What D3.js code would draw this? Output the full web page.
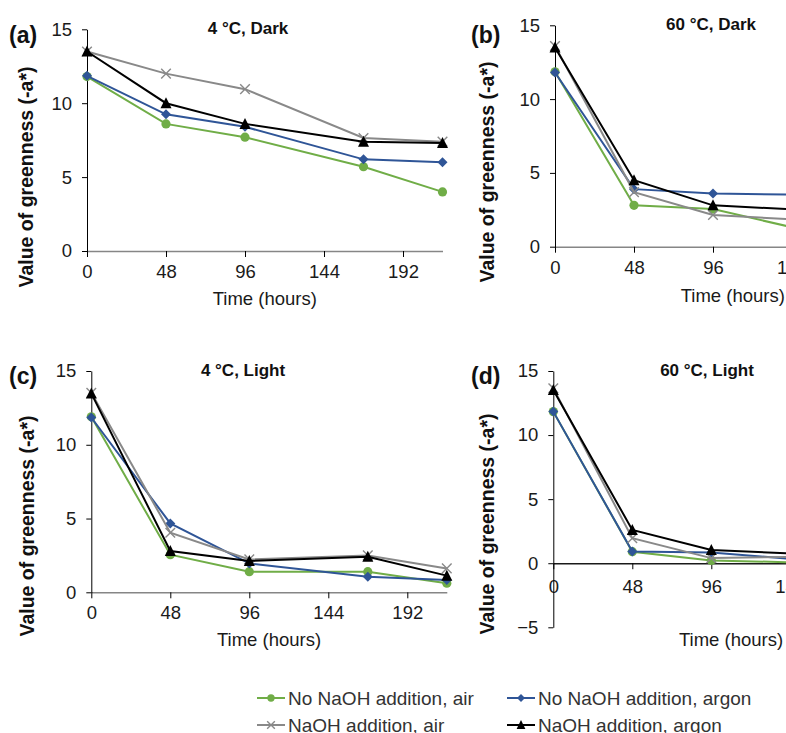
<!DOCTYPE html>
<html><head><meta charset="utf-8">
<script src="https://cdn.jsdelivr.net/npm/d3@7"></script>
<style>body{margin:0;background:#fff}svg{display:block;font-family:"Liberation Sans",Arial,sans-serif}</style>
</head><body>
<script>
// ---- data ----
const hours = [0, 48, 96, 168, 216];
const xTickValues = [0, 48, 96, 144, 192];
const yTicksStd = [0, 5, 10, 15];
const yTicksD = [-5, 0, 5, 10, 15];
const seriesNames = ["No NaOH addition, air", "No NaOH addition, argon", "NaOH addition, air", "NaOH addition, argon"];
const panelTitles = ["4 °C, Dark", "60 °C, Dark", "4 °C, Light", "60 °C, Light"];
const panelLetters = ["(a)", "(b)", "(c)", "(d)"];

// (a) 4 °C, Dark
const a_noNaOH_air   = [11.8, 8.6, 7.7, 5.7, 4.0];
const a_noNaOH_argon = [11.85, 9.25, 8.4, 6.2, 6.0];
const a_NaOH_air     = [13.5, 12.0, 10.95, 7.65, 7.4];
const a_NaOH_argon   = [13.5, 10.0, 8.6, 7.4, 7.3];
// (b) 60 °C, Dark
const b_noNaOH_air   = [11.85, 2.8, 2.55, 0.7, 0.5];
const b_noNaOH_argon = [11.8, 3.9, 3.6, 3.5, 3.4];
const b_NaOH_air     = [13.6, 3.7, 2.15, 1.7, 1.5];
const b_NaOH_argon   = [13.5, 4.5, 2.8, 2.4, 2.2];
// (c) 4 °C, Light
const c_noNaOH_air   = [11.9, 2.55, 1.4, 1.4, 0.62];
const c_noNaOH_argon = [11.85, 4.67, 1.96, 1.06, 0.83];
const c_NaOH_air     = [13.52, 4.04, 2.23, 2.5, 1.62];
const c_NaOH_argon   = [13.48, 2.8, 2.12, 2.41, 1.13];
// (d) 60 °C, Light
const d_noNaOH_air   = [11.83, 0.9, 0.22, 0.0, -0.1];
const d_noNaOH_argon = [11.83, 0.92, 0.83, 0.1, 0.0];
const d_NaOH_air     = [13.65, 1.95, 0.4, 0.55, 0.5];
const d_NaOH_argon   = [13.52, 2.6, 1.04, 0.63, 0.6];

const panelData = [
  [a_noNaOH_air, a_noNaOH_argon, a_NaOH_air, a_NaOH_argon],
  [b_noNaOH_air, b_noNaOH_argon, b_NaOH_air, b_NaOH_argon],
  [c_noNaOH_air, c_noNaOH_argon, c_NaOH_air, c_NaOH_argon],
  [d_noNaOH_air, d_noNaOH_argon, d_NaOH_air, d_NaOH_argon]
];

// ---- layout / style ----
const colors = ["#70AD47", "#2F5597", "#898989", "#000000"];
const shapes = ["circle", "diamond", "cross", "triangle"];
const layouts = [
  {x0: 87,    yTop: 29.3, yBot: 251,   dom: [0, 15],  ticks: yTicksStd, pad: 8,  xAxisColor: "#868686", titleX: 248, titleY: 34, letterX: 9,  letterY: 43, xtY: 298, ytX: 26,  ytY: 177},
  {x0: 555,   yTop: 25.3, yBot: 246.7, dom: [0, 15],  ticks: yTicksStd, pad: 8,  xAxisColor: "#868686", titleX: 711, titleY: 30, letterX: 471, letterY: 43, xtY: 295, ytX: 487, ytY: 172},
  {x0: 91.3,  yTop: 371,  yBot: 592.3, dom: [0, 15],  ticks: yTicksStd, pad: 8,  xAxisColor: "#868686", titleX: 243, titleY: 376, letterX: 9, letterY: 384, xtY: 639, ytX: 27, ytY: 526},
  {x0: 553.3, yTop: 371,  yBot: 627.3, dom: [-5, 15], ticks: yTicksD,   pad: 11, xAxisColor: "#1a1a1a", titleX: 707, titleY: 376, letterX: 471, letterY: 384, xtY: 639, ytX: 487, ytY: 524}
];

const svg = d3.select("body").append("svg").attr("width", 786).attr("height", 733);

function drawMarker(g, shape, color, cx, cy, s) {
  if (shape === "circle") {
    g.append("circle").attr("cx", cx).attr("cy", cy).attr("r", 4.6 * s).attr("fill", color);
  } else if (shape === "diamond") {
    const r = 5 * s;
    g.append("path").attr("d", `M${cx},${cy - r}L${cx + r},${cy}L${cx},${cy + r}L${cx - r},${cy}Z`).attr("fill", color);
  } else if (shape === "triangle") {
    const w = 5.5 * s, h = 5 * s;
    g.append("path").attr("d", `M${cx},${cy - h - 1}L${cx + w},${cy + h}L${cx - w},${cy + h}Z`).attr("fill", color);
  } else {
    const r = 4.8 * s;
    g.append("path").attr("d", `M${cx - r},${cy - r}L${cx + r},${cy + r}M${cx - r},${cy + r}L${cx + r},${cy - r}`)
      .attr("stroke", color).attr("stroke-width", 1.4).attr("fill", "none");
  }
}

layouts.forEach((L, pi) => {
  const g = svg.append("g");
  const x = d3.scaleLinear().domain([0, 216]).range([L.x0, L.x0 + 355.5]);
  const y = d3.scaleLinear().domain(L.dom).range([L.yBot, L.yTop]);

  // x axis at y = 0
  const gx = g.append("g").attr("transform", `translate(0,${y(0)})`)
    .call(d3.axisBottom(x).tickValues(xTickValues).tickSize(6).tickPadding(L.pad).tickSizeOuter(0));
  gx.select(".domain").attr("stroke", L.xAxisColor).attr("stroke-width", 1.6);
  gx.selectAll(".tick line").attr("stroke", "#000");
  gx.selectAll(".tick text").attr("font-size", 18.5).attr("fill", "#1a1a1a").attr("font-family", "Liberation Sans, Arial, sans-serif");

  // y axis
  const gy = g.append("g").attr("transform", `translate(${L.x0},0)`)
    .call(d3.axisLeft(y).tickValues(L.ticks).tickSize(5).tickPadding(10).tickSizeOuter(0));
  gy.select(".domain").attr("stroke", "#000").attr("stroke-width", 1);
  gy.selectAll(".tick line").attr("stroke", "#000");
  gy.selectAll(".tick text").attr("font-size", 18.5).attr("fill", "#1a1a1a").attr("font-family", "Liberation Sans, Arial, sans-serif");

  // series
  const line = d3.line().x(d => x(d[0])).y(d => y(d[1]));
  panelData[pi].forEach((vals, si) => {
    const pts = hours.map((h, i) => [h, vals[i]]);
    g.append("path").attr("d", line(pts)).attr("fill", "none").attr("stroke", colors[si]).attr("stroke-width", 2);
    pts.forEach(p => drawMarker(g, shapes[si], colors[si], x(p[0]), y(p[1]), 1));
  });

  // texts
  g.append("text").attr("x", L.titleX).attr("y", L.titleY).attr("text-anchor", "middle")
    .attr("font-size", 17).attr("font-weight", "bold").attr("fill", "#111").text(panelTitles[pi]);
  g.append("text").attr("x", L.letterX).attr("y", L.letterY)
    .attr("font-size", 23).attr("font-weight", "bold").attr("fill", "#111").text(panelLetters[pi]);
  g.append("text").attr("x", L.x0 + 177.75).attr("y", L.xtY).attr("dominant-baseline", "central").attr("text-anchor", "middle")
    .attr("font-size", 18.5).attr("fill", "#1a1a1a").text("Time (hours)");
  g.append("text").attr("transform", `translate(${L.ytX},${L.ytY}) rotate(-90)`).attr("dominant-baseline", "central")
    .attr("text-anchor", "middle").attr("font-size", 19.5).attr("font-weight", "bold").attr("fill", "#111")
    .text("Value of greenness (-a*)");
});

// legend
const legendPos = [[257, 698], [507, 698], [257, 725], [507, 725]];
seriesNames.forEach((name, i) => {
  const [lx, ly] = legendPos[i];
  const g = svg.append("g");
  g.append("line").attr("x1", lx).attr("x2", lx + 28).attr("y1", ly).attr("y2", ly)
    .attr("stroke", colors[i]).attr("stroke-width", 2);
  drawMarker(g, shapes[i], colors[i], lx + 14, ly, 0.8);
  g.append("text").attr("x", lx + 31).attr("y", ly).attr("dominant-baseline", "central")
    .attr("font-size", 19).attr("fill", "#333").text(name);
});
</script>
</body></html>
